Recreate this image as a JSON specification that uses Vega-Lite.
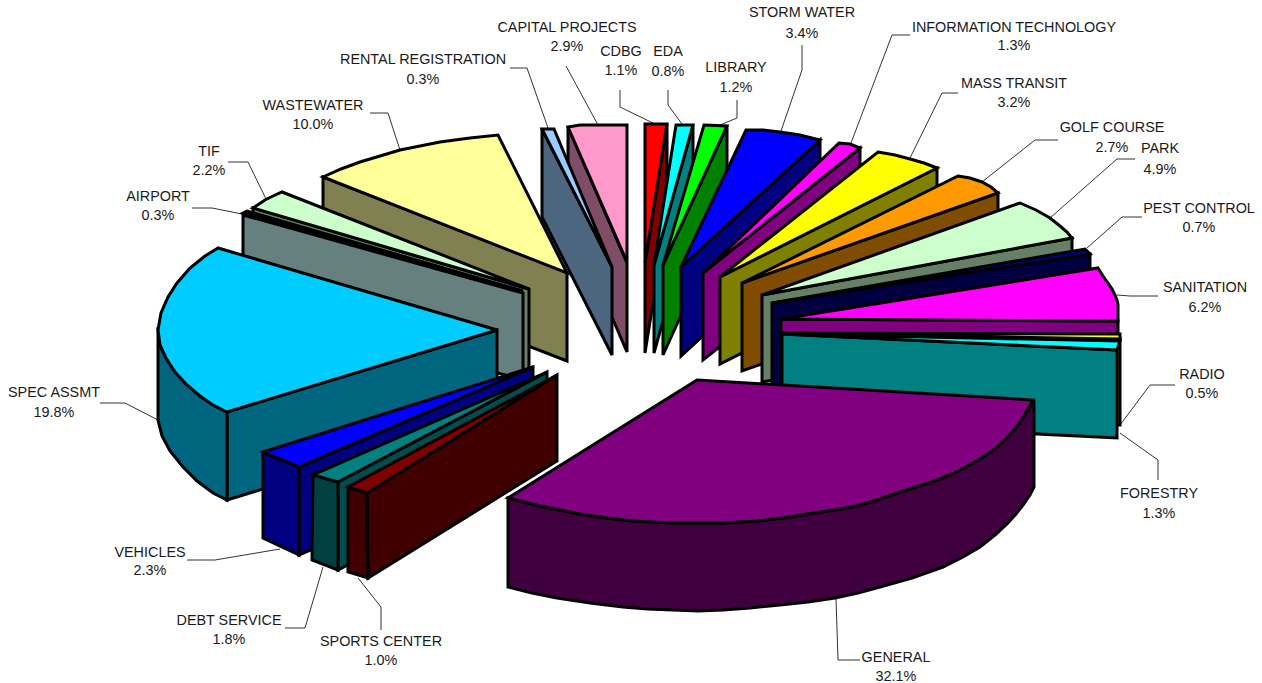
{
"$schema":"https://vega.github.io/schema/vega-lite/v6.json",
"width":1262,"height":683,"padding":0,"autosize":"none","background":"white",
"config":{"view":{"stroke":null}},
"datasets":{
"faces":[
{"p":"CAPITAL wall","x":568,"y":127},{"p":"CAPITAL wall","x":627,"y":263},{"p":"CAPITAL wall","x":627,"y":352},{"p":"CAPITAL wall","x":568,"y":215},
{"p":"CAPITAL top","x":568,"y":127},{"p":"CAPITAL top","x":580,"y":125},{"p":"CAPITAL top","x":627,"y":125},{"p":"CAPITAL top","x":627,"y":262},
{"p":"RENTAL wall","x":542,"y":129},{"p":"RENTAL wall","x":612,"y":267},{"p":"RENTAL wall","x":612,"y":355},{"p":"RENTAL wall","x":542,"y":217},
{"p":"RENTAL top","x":542,"y":129},{"p":"RENTAL top","x":554,"y":129},{"p":"RENTAL top","x":612,"y":267},
{"p":"CDBG wall","x":667,"y":124},{"p":"CDBG wall","x":645,"y":263},{"p":"CDBG wall","x":645,"y":353},{"p":"CDBG wall","x":667,"y":215},
{"p":"CDBG top","x":645,"y":124},{"p":"CDBG top","x":667,"y":124},{"p":"CDBG top","x":645,"y":263},
{"p":"EDA wall","x":693,"y":125},{"p":"EDA wall","x":654,"y":265},{"p":"EDA wall","x":654,"y":353},{"p":"EDA wall","x":693,"y":213},
{"p":"EDA top","x":676,"y":125},{"p":"EDA top","x":693,"y":125},{"p":"EDA top","x":654,"y":265},
{"p":"LIBRARY wall","x":727,"y":126},{"p":"LIBRARY wall","x":663,"y":265},{"p":"LIBRARY wall","x":663,"y":355},{"p":"LIBRARY wall","x":727,"y":214},
{"p":"LIBRARY top","x":704,"y":125},{"p":"LIBRARY top","x":727,"y":126},{"p":"LIBRARY top","x":663,"y":265},
{"p":"STORM wall","x":820,"y":140},{"p":"STORM wall","x":681,"y":267},{"p":"STORM wall","x":681,"y":356},{"p":"STORM wall","x":820,"y":228},
{"p":"STORM top","x":746,"y":130},{"p":"STORM top","x":763,"y":130},{"p":"STORM top","x":780,"y":132},{"p":"STORM top","x":800,"y":135},{"p":"STORM top","x":820,"y":140},{"p":"STORM top","x":681,"y":267},
{"p":"IT wall","x":860,"y":148},{"p":"IT wall","x":703,"y":273},{"p":"IT wall","x":703,"y":360},{"p":"IT wall","x":860,"y":236},
{"p":"IT top","x":839,"y":143},{"p":"IT top","x":850,"y":144},{"p":"IT top","x":860,"y":148},{"p":"IT top","x":703,"y":273},
{"p":"MASS wall","x":937,"y":168},{"p":"MASS wall","x":720,"y":277},{"p":"MASS wall","x":720,"y":364},{"p":"MASS wall","x":937,"y":255},
{"p":"MASS top","x":878,"y":152},{"p":"MASS top","x":895,"y":155},{"p":"MASS top","x":910,"y":159},{"p":"MASS top","x":924,"y":163},{"p":"MASS top","x":937,"y":168},{"p":"MASS top","x":720,"y":277},
{"p":"GOLF wall","x":998,"y":193},{"p":"GOLF wall","x":742,"y":283},{"p":"GOLF wall","x":742,"y":371},{"p":"GOLF wall","x":998,"y":281},
{"p":"GOLF top","x":958,"y":176},{"p":"GOLF top","x":970,"y":178},{"p":"GOLF top","x":982,"y":182},{"p":"GOLF top","x":991,"y":187},{"p":"GOLF top","x":998,"y":193},{"p":"GOLF top","x":742,"y":283},
{"p":"PARK wall","x":1072,"y":238},{"p":"PARK wall","x":762,"y":295},{"p":"PARK wall","x":762,"y":382},{"p":"PARK wall","x":1072,"y":326},
{"p":"PARK top","x":1020,"y":203},{"p":"PARK top","x":1036,"y":210},{"p":"PARK top","x":1050,"y":218},{"p":"PARK top","x":1060,"y":226},{"p":"PARK top","x":1067,"y":232},{"p":"PARK top","x":1072,"y":238},{"p":"PARK top","x":762,"y":295},
{"p":"PEST wall","x":1090,"y":254},{"p":"PEST wall","x":772,"y":303},{"p":"PEST wall","x":772,"y":390},{"p":"PEST wall","x":1090,"y":342},
{"p":"PEST top","x":1085,"y":249},{"p":"PEST top","x":1090,"y":254},{"p":"PEST top","x":772,"y":303},
{"p":"SANITATION wall","x":1118,"y":321},{"p":"SANITATION wall","x":781,"y":319},{"p":"SANITATION wall","x":781,"y":407},{"p":"SANITATION wall","x":1118,"y":409},
{"p":"SANITATION top","x":1098,"y":268},{"p":"SANITATION top","x":1103,"y":276},{"p":"SANITATION top","x":1108,"y":283},{"p":"SANITATION top","x":1112,"y":289},{"p":"SANITATION top","x":1115,"y":295},{"p":"SANITATION top","x":1117,"y":300},{"p":"SANITATION top","x":1118,"y":305},{"p":"SANITATION top","x":1118,"y":321},{"p":"SANITATION top","x":781,"y":319},
{"p":"RADIO wall","x":1120,"y":338},{"p":"RADIO wall","x":781,"y":333},{"p":"RADIO wall","x":781,"y":420},{"p":"RADIO wall","x":1120,"y":425},
{"p":"RADIO top","x":781,"y":333},{"p":"RADIO top","x":1120,"y":334},{"p":"RADIO top","x":1120,"y":339},
{"p":"FORESTRY wall","x":1117,"y":350},{"p":"FORESTRY wall","x":782,"y":334},{"p":"FORESTRY wall","x":782,"y":421},{"p":"FORESTRY wall","x":1117,"y":438},
{"p":"FORESTRY top","x":782,"y":334},{"p":"FORESTRY top","x":1120,"y":341},{"p":"FORESTRY top","x":1117,"y":350},
{"p":"WASTEWATER wall","x":323,"y":177},{"p":"WASTEWATER wall","x":567,"y":272},{"p":"WASTEWATER wall","x":567,"y":361},{"p":"WASTEWATER wall","x":323,"y":266},
{"p":"WASTEWATER top","x":323,"y":177},{"p":"WASTEWATER top","x":341,"y":169},{"p":"WASTEWATER top","x":360,"y":162},{"p":"WASTEWATER top","x":380,"y":156},{"p":"WASTEWATER top","x":400,"y":150},{"p":"WASTEWATER top","x":420,"y":146},{"p":"WASTEWATER top","x":440,"y":142},{"p":"WASTEWATER top","x":470,"y":138},{"p":"WASTEWATER top","x":498,"y":135},{"p":"WASTEWATER top","x":567,"y":273},
{"p":"TIF wall","x":253,"y":208},{"p":"TIF wall","x":529,"y":289},{"p":"TIF wall","x":529,"y":378},{"p":"TIF wall","x":253,"y":296},
{"p":"TIF top","x":253,"y":208},{"p":"TIF top","x":259,"y":204},{"p":"TIF top","x":265,"y":200},{"p":"TIF top","x":273,"y":196},{"p":"TIF top","x":282,"y":192},{"p":"TIF top","x":529,"y":289},
{"p":"AIRPORT wall","x":243,"y":215},{"p":"AIRPORT wall","x":523,"y":293},{"p":"AIRPORT wall","x":523,"y":380},{"p":"AIRPORT wall","x":243,"y":303},
{"p":"AIRPORT top","x":243,"y":213},{"p":"AIRPORT top","x":247,"y":211},{"p":"AIRPORT top","x":523,"y":291},
{"p":"SPEC wall","x":227,"y":412},{"p":"SPEC wall","x":497,"y":330},{"p":"SPEC wall","x":497,"y":418},{"p":"SPEC wall","x":227,"y":500},
{"p":"SPEC rim","x":158,"y":327},{"p":"SPEC rim","x":160,"y":345},{"p":"SPEC rim","x":166,"y":358},{"p":"SPEC rim","x":175,"y":372},{"p":"SPEC rim","x":187,"y":385},{"p":"SPEC rim","x":200,"y":396},{"p":"SPEC rim","x":213,"y":405},{"p":"SPEC rim","x":227,"y":412},{"p":"SPEC rim","x":227,"y":500},{"p":"SPEC rim","x":213,"y":493},{"p":"SPEC rim","x":197,"y":481},{"p":"SPEC rim","x":183,"y":467},{"p":"SPEC rim","x":170,"y":451},{"p":"SPEC rim","x":162,"y":436},{"p":"SPEC rim","x":158,"y":420},
{"p":"SPEC top","x":218,"y":248},{"p":"SPEC top","x":205,"y":256},{"p":"SPEC top","x":190,"y":268},{"p":"SPEC top","x":177,"y":283},{"p":"SPEC top","x":168,"y":297},{"p":"SPEC top","x":161,"y":313},{"p":"SPEC top","x":158,"y":330},{"p":"SPEC top","x":160,"y":345},{"p":"SPEC top","x":166,"y":358},{"p":"SPEC top","x":175,"y":372},{"p":"SPEC top","x":187,"y":385},{"p":"SPEC top","x":200,"y":396},{"p":"SPEC top","x":213,"y":405},{"p":"SPEC top","x":227,"y":412},{"p":"SPEC top","x":497,"y":330},
{"p":"VEHICLES wall","x":299,"y":467},{"p":"VEHICLES wall","x":533,"y":367},{"p":"VEHICLES wall","x":533,"y":455},{"p":"VEHICLES wall","x":299,"y":555},
{"p":"VEHICLES rim","x":263,"y":452},{"p":"VEHICLES rim","x":299,"y":467},{"p":"VEHICLES rim","x":299,"y":555},{"p":"VEHICLES rim","x":263,"y":538},
{"p":"VEHICLES top","x":263,"y":452},{"p":"VEHICLES top","x":299,"y":467},{"p":"VEHICLES top","x":533,"y":367},
{"p":"DEBT wall","x":338,"y":482},{"p":"DEBT wall","x":547,"y":372},{"p":"DEBT wall","x":547,"y":460},{"p":"DEBT wall","x":338,"y":570},
{"p":"DEBT rim","x":313,"y":475},{"p":"DEBT rim","x":338,"y":482},{"p":"DEBT rim","x":338,"y":570},{"p":"DEBT rim","x":312,"y":560},
{"p":"DEBT top","x":313,"y":475},{"p":"DEBT top","x":338,"y":482},{"p":"DEBT top","x":547,"y":372},
{"p":"SPORTS wall","x":367,"y":493},{"p":"SPORTS wall","x":557,"y":375},{"p":"SPORTS wall","x":557,"y":461},{"p":"SPORTS wall","x":368,"y":578},
{"p":"SPORTS rim","x":348,"y":487},{"p":"SPORTS rim","x":367,"y":493},{"p":"SPORTS rim","x":368,"y":578},{"p":"SPORTS rim","x":348,"y":572},
{"p":"SPORTS top","x":348,"y":487},{"p":"SPORTS top","x":367,"y":493},{"p":"SPORTS top","x":557,"y":375},
{"p":"GENERAL rim","x":508,"y":498},{"p":"GENERAL rim","x":524,"y":502},{"p":"GENERAL rim","x":540,"y":506},{"p":"GENERAL rim","x":560,"y":510},{"p":"GENERAL rim","x":580,"y":514},{"p":"GENERAL rim","x":607,"y":518},{"p":"GENERAL rim","x":633,"y":521},{"p":"GENERAL rim","x":653,"y":522},{"p":"GENERAL rim","x":673,"y":523},{"p":"GENERAL rim","x":698,"y":523},{"p":"GENERAL rim","x":723,"y":523},{"p":"GENERAL rim","x":757,"y":521},{"p":"GENERAL rim","x":790,"y":517},{"p":"GENERAL rim","x":813,"y":513},{"p":"GENERAL rim","x":835,"y":510},{"p":"GENERAL rim","x":857,"y":506},{"p":"GENERAL rim","x":877,"y":500},{"p":"GENERAL rim","x":895,"y":494},{"p":"GENERAL rim","x":913,"y":488},{"p":"GENERAL rim","x":932,"y":482},{"p":"GENERAL rim","x":950,"y":475},{"p":"GENERAL rim","x":966,"y":467},{"p":"GENERAL rim","x":980,"y":459},{"p":"GENERAL rim","x":995,"y":449},{"p":"GENERAL rim","x":1007,"y":438},{"p":"GENERAL rim","x":1016,"y":428},{"p":"GENERAL rim","x":1023,"y":418},{"p":"GENERAL rim","x":1034,"y":400},{"p":"GENERAL rim","x":1034,"y":487},{"p":"GENERAL rim","x":1030,"y":495},{"p":"GENERAL rim","x":1023,"y":505},{"p":"GENERAL rim","x":1016,"y":514},{"p":"GENERAL rim","x":1007,"y":524},{"p":"GENERAL rim","x":995,"y":535},{"p":"GENERAL rim","x":980,"y":547},{"p":"GENERAL rim","x":963,"y":557},{"p":"GENERAL rim","x":943,"y":567},{"p":"GENERAL rim","x":912,"y":578},{"p":"GENERAL rim","x":880,"y":587},{"p":"GENERAL rim","x":858,"y":593},{"p":"GENERAL rim","x":835,"y":598},{"p":"GENERAL rim","x":808,"y":602},{"p":"GENERAL rim","x":780,"y":605},{"p":"GENERAL rim","x":750,"y":608},{"p":"GENERAL rim","x":723,"y":610},{"p":"GENERAL rim","x":698,"y":611},{"p":"GENERAL rim","x":673,"y":610},{"p":"GENERAL rim","x":648,"y":609},{"p":"GENERAL rim","x":623,"y":607},{"p":"GENERAL rim","x":590,"y":603},{"p":"GENERAL rim","x":557,"y":598},{"p":"GENERAL rim","x":532,"y":593},{"p":"GENERAL rim","x":508,"y":587},
{"p":"GENERAL top","x":697,"y":380},{"p":"GENERAL top","x":1033,"y":400},{"p":"GENERAL top","x":1023,"y":418},{"p":"GENERAL top","x":1016,"y":428},{"p":"GENERAL top","x":1007,"y":438},{"p":"GENERAL top","x":995,"y":449},{"p":"GENERAL top","x":980,"y":459},{"p":"GENERAL top","x":966,"y":467},{"p":"GENERAL top","x":950,"y":475},{"p":"GENERAL top","x":932,"y":482},{"p":"GENERAL top","x":913,"y":488},{"p":"GENERAL top","x":895,"y":494},{"p":"GENERAL top","x":877,"y":500},{"p":"GENERAL top","x":857,"y":506},{"p":"GENERAL top","x":835,"y":510},{"p":"GENERAL top","x":813,"y":513},{"p":"GENERAL top","x":790,"y":517},{"p":"GENERAL top","x":757,"y":521},{"p":"GENERAL top","x":723,"y":523},{"p":"GENERAL top","x":698,"y":523},{"p":"GENERAL top","x":673,"y":523},{"p":"GENERAL top","x":653,"y":522},{"p":"GENERAL top","x":633,"y":521},{"p":"GENERAL top","x":607,"y":518},{"p":"GENERAL top","x":580,"y":514},{"p":"GENERAL top","x":560,"y":510},{"p":"GENERAL top","x":540,"y":506},{"p":"GENERAL top","x":524,"y":502},{"p":"GENERAL top","x":508,"y":498}
],
"leaders":[
{"n":"CAPITAL","x":566,"y":66},{"n":"CAPITAL","x":598,"y":125},
{"n":"RENTAL","x":510,"y":68},{"n":"RENTAL","x":527,"y":68},{"n":"RENTAL","x":548,"y":128},
{"n":"CDBG","x":620,"y":90},{"n":"CDBG","x":620,"y":107},{"n":"CDBG","x":655,"y":124},
{"n":"EDA","x":668,"y":90},{"n":"EDA","x":668,"y":105},{"n":"EDA","x":682,"y":124},
{"n":"LIBRARY","x":737,"y":100},{"n":"LIBRARY","x":737,"y":118},{"n":"LIBRARY","x":720,"y":125},
{"n":"STORM","x":802,"y":45},{"n":"STORM","x":802,"y":70},{"n":"STORM","x":781,"y":131},
{"n":"IT","x":910,"y":35},{"n":"IT","x":892,"y":35},{"n":"IT","x":851,"y":143},
{"n":"MASS","x":958,"y":93},{"n":"MASS","x":942,"y":93},{"n":"MASS","x":910,"y":158},
{"n":"GOLF","x":1058,"y":140},{"n":"GOLF","x":1035,"y":140},{"n":"GOLF","x":982,"y":182},
{"n":"PARK","x":1135,"y":159},{"n":"PARK","x":1117,"y":159},{"n":"PARK","x":1050,"y":218},
{"n":"PEST","x":1142,"y":217},{"n":"PEST","x":1122,"y":217},{"n":"PEST","x":1087,"y":248},
{"n":"SANITATION","x":1158,"y":296},{"n":"SANITATION","x":1130,"y":296},{"n":"SANITATION","x":1117,"y":295},
{"n":"RADIO","x":1175,"y":385},{"n":"RADIO","x":1150,"y":385},{"n":"RADIO","x":1120,"y":425},
{"n":"FORESTRY","x":1120,"y":433},{"n":"FORESTRY","x":1158,"y":460},{"n":"FORESTRY","x":1158,"y":480},
{"n":"GENERAL","x":836,"y":598},{"n":"GENERAL","x":838,"y":660},{"n":"GENERAL","x":860,"y":660},
{"n":"SPORTS","x":358,"y":578},{"n":"SPORTS","x":381,"y":607},{"n":"SPORTS","x":381,"y":630},
{"n":"DEBT","x":323,"y":567},{"n":"DEBT","x":305,"y":628},{"n":"DEBT","x":285,"y":628},
{"n":"VEHICLES","x":187,"y":560},{"n":"VEHICLES","x":215,"y":560},{"n":"VEHICLES","x":280,"y":549},
{"n":"SPEC","x":100,"y":403},{"n":"SPEC","x":125,"y":403},{"n":"SPEC","x":158,"y":420},
{"n":"AIRPORT","x":192,"y":208},{"n":"AIRPORT","x":212,"y":208},{"n":"AIRPORT","x":242,"y":214},
{"n":"TIF","x":228,"y":162},{"n":"TIF","x":248,"y":162},{"n":"TIF","x":266,"y":199},
{"n":"WASTEWATER","x":370,"y":113},{"n":"WASTEWATER","x":388,"y":113},{"n":"WASTEWATER","x":400,"y":150}
],
"labels":[
{"name":"CAPITAL PROJECTS","share":0.029,"nx":567,"ny":27,"sx":567,"sy":46},
{"name":"CDBG","share":0.011,"nx":621,"ny":51,"sx":621,"sy":70},
{"name":"EDA","share":0.008,"nx":668,"ny":51,"sx":668,"sy":71},
{"name":"LIBRARY","share":0.012,"nx":736,"ny":67,"sx":736,"sy":87},
{"name":"STORM WATER","share":0.034,"nx":802,"ny":12,"sx":802,"sy":33},
{"name":"INFORMATION TECHNOLOGY","share":0.013,"nx":1014,"ny":27,"sx":1014,"sy":45},
{"name":"MASS TRANSIT","share":0.032,"nx":1014,"ny":83,"sx":1014,"sy":102},
{"name":"GOLF COURSE","share":0.027,"nx":1112,"ny":127,"sx":1112,"sy":147},
{"name":"PARK","share":0.049,"nx":1160,"ny":148,"sx":1160,"sy":169},
{"name":"PEST CONTROL","share":0.007,"nx":1199,"ny":208,"sx":1199,"sy":227},
{"name":"SANITATION","share":0.062,"nx":1205,"ny":287,"sx":1205,"sy":307},
{"name":"RADIO","share":0.005,"nx":1202,"ny":374,"sx":1202,"sy":393},
{"name":"FORESTRY","share":0.013,"nx":1159,"ny":493,"sx":1159,"sy":513},
{"name":"GENERAL","share":0.321,"nx":896,"ny":657,"sx":896,"sy":676},
{"name":"SPORTS CENTER","share":0.010,"nx":381,"ny":641,"sx":381,"sy":660},
{"name":"DEBT SERVICE","share":0.018,"nx":229,"ny":620,"sx":229,"sy":639},
{"name":"VEHICLES","share":0.023,"nx":150,"ny":552,"sx":150,"sy":570},
{"name":"SPEC ASSMT","share":0.198,"nx":54,"ny":392,"sx":54,"sy":412},
{"name":"AIRPORT","share":0.003,"nx":158,"ny":196,"sx":158,"sy":215},
{"name":"TIF","share":0.022,"nx":209,"ny":151,"sx":209,"sy":170},
{"name":"WASTEWATER","share":0.100,"nx":313,"ny":105,"sx":313,"sy":124},
{"name":"RENTAL REGISTRATION","share":0.003,"nx":423,"ny":59,"sx":423,"sy":79}
]
},
"layer":[
{"data":{"name":"leaders"},
 "transform":[{"window":[{"op":"row_number","as":"i"}]}],
 "mark":{"type":"line","stroke":"#333333","strokeWidth":1},
 "encoding":{
  "x":{"field":"x","type":"quantitative","scale":{"domain":[0,1262],"nice":false,"zero":false},"axis":null},
  "y":{"field":"y","type":"quantitative","scale":{"domain":[683,0],"nice":false,"zero":false},"axis":null},
  "detail":{"field":"n"},"order":{"field":"i","type":"quantitative"}}},
{"data":{"name":"faces"},
 "transform":[{"window":[{"op":"row_number","as":"i"}]}],
 "mark":{"type":"line","filled":true,"interpolate":"linear-closed","stroke":"#000000","strokeWidth":3,"strokeJoin":"miter","strokeMiterLimit":3},
 "encoding":{
  "x":{"field":"x","type":"quantitative","scale":{"domain":[0,1262],"nice":false,"zero":false},"axis":null},
  "y":{"field":"y","type":"quantitative","scale":{"domain":[683,0],"nice":false,"zero":false},"axis":null},
  "order":{"field":"i","type":"quantitative"},
  "fill":{"field":"p","type":"nominal","legend":null,"scale":{
   "domain":["CAPITAL wall","CAPITAL top","RENTAL wall","RENTAL top","CDBG wall","CDBG top","EDA wall","EDA top","LIBRARY wall","LIBRARY top","STORM wall","STORM top","IT wall","IT top","MASS wall","MASS top","GOLF wall","GOLF top","PARK wall","PARK top","PEST wall","PEST top","SANITATION wall","SANITATION top","RADIO wall","RADIO top","FORESTRY wall","FORESTRY top","WASTEWATER wall","WASTEWATER top","TIF wall","TIF top","AIRPORT wall","AIRPORT top","SPEC wall","SPEC rim","SPEC top","VEHICLES wall","VEHICLES rim","VEHICLES top","DEBT wall","DEBT rim","DEBT top","SPORTS wall","SPORTS rim","SPORTS top","GENERAL rim","GENERAL top"],
   "range":["#804D66","#FF99CC","#4D6680","#99CCFF","#800000","#FF0000","#008080","#00FFFF","#008000","#00FF00","#000080","#0000FF","#800080","#FF00FF","#808000","#FFFF00","#804D00","#FF9900","#668066","#CCFFCC","#000040","#000080","#800080","#FF00FF","#808000","#FFFF00","#008080","#00FFFF","#808050","#FFFF99","#668066","#CCFFCC","#668080","#CCFFFF","#006680","#006680","#00CCFF","#000080","#000080","#0000FF","#004D4D","#004040","#008080","#400000","#400000","#800000","#400040","#800080"]}}}},
{"data":{"name":"labels"},
 "mark":{"type":"text","font":"Liberation Sans","fontSize":14.4,"fill":"#1a1a1a","align":"center","baseline":"middle","dy":1},
 "encoding":{
  "x":{"field":"nx","type":"quantitative","scale":{"domain":[0,1262],"nice":false,"zero":false},"axis":null},
  "y":{"field":"ny","type":"quantitative","scale":{"domain":[683,0],"nice":false,"zero":false},"axis":null},
  "text":{"field":"name"}}},
{"data":{"name":"labels"},
 "mark":{"type":"text","font":"Liberation Sans","fontSize":14.4,"fill":"#1a1a1a","align":"center","baseline":"middle","dy":1},
 "encoding":{
  "x":{"field":"sx","type":"quantitative","scale":{"domain":[0,1262],"nice":false,"zero":false},"axis":null},
  "y":{"field":"sy","type":"quantitative","scale":{"domain":[683,0],"nice":false,"zero":false},"axis":null},
  "text":{"field":"share","type":"quantitative","format":".1%"}}}
]
}
